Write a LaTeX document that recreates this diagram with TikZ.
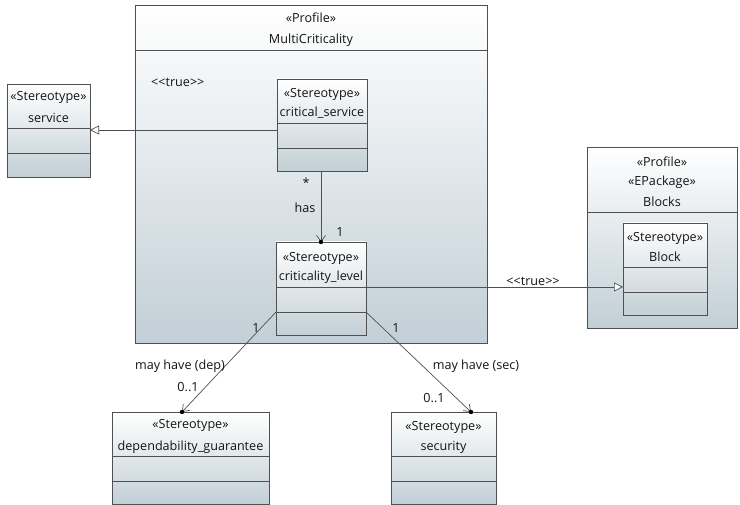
\documentclass[tikz,border=0pt]{standalone}
\usepackage{fontspec}
\setmainfont{Open Sans}
\usetikzlibrary{arrows.meta,calc}
\definecolor{edgec}{RGB}{80,80,80}
\definecolor{shadebot}{RGB}{194,207,214}
\definecolor{txt}{RGB}{20,20,20}
\tikzset{
  x=1pt,y=-1pt,
  box/.style={draw=edgec, line width=0.8pt, top color=white, bottom color=shadebot,
    inner sep=0pt, outer sep=0pt, anchor=north west},
  lbl/.style={text=txt, inner sep=1pt, font=\fontsize{12.6}{14}\selectfont},
  sep/.style={draw=edgec, line width=0.8pt},
  conn/.style={draw=edgec, line width=0.7pt},
  gen/.style={conn, -{Triangle[open, length=9pt, width=9pt, fill=white]}},
  nav/.style={conn, -{Straight Barb[length=6pt, width=9pt]}},
  own/.style={fill=black},
}
\begin{document}
\begin{tikzpicture}
\useasboundingbox (0,0) rectangle (740,505);
\fill[white] (0,0) rectangle (740,505);

% packages
\node[box, minimum width=352pt, minimum height=338pt] (mc) at (135,5) {};
\draw[sep] ($(mc.north west)+(0,45)$) -- ($(mc.north east)+(0,45)$);
\node[lbl] (mcs) at (311,18) {«Profile»};
\node[lbl] (mcn) at (311,40) {MultiCriticality};
\node[lbl, anchor=west] (mct) at (150,82) {<{}<true>{}>};

\node[box, minimum width=150pt, minimum height=181pt] (bp) at (587,147) {};
\draw[sep] ($(bp.north west)+(0,65)$) -- ($(bp.north east)+(0,65)$);
\node[lbl] (bps) at (662,162) {«Profile»};
\node[lbl] (bpe) at (662,182) {«EPackage»};
\node[lbl] (bpn) at (662,202) {Blocks};

% classes
\node[box, minimum width=83pt, minimum height=93pt] (svc) at (7,84) {};
\draw[sep] ($(svc.north west)+(0,44)$) -- ($(svc.north east)+(0,44)$);
\draw[sep] ($(svc.north west)+(0,69)$) -- ($(svc.north east)+(0,69)$);
\node[lbl] (svcs) at (48.5,97) {«Stereotype»};
\node[lbl] (svcn) at (48.5,118) {service};

\node[box, minimum width=90pt, minimum height=92pt] (cs) at (277,79) {};
\draw[sep] ($(cs.north west)+(0,44)$) -- ($(cs.north east)+(0,44)$);
\draw[sep] ($(cs.north west)+(0,69)$) -- ($(cs.north east)+(0,69)$);
\node[lbl] (css) at (322,94) {«Stereotype»};
\node[lbl] (csn) at (322,113) {critical\_service};

\node[box, minimum width=90pt, minimum height=93pt] (cl) at (276,242) {};
\draw[sep] ($(cl.north west)+(0,45)$) -- ($(cl.north east)+(0,45)$);
\draw[sep] ($(cl.north west)+(0,70)$) -- ($(cl.north east)+(0,70)$);
\node[lbl] (cls) at (321,258) {«Stereotype»};
\node[lbl] (cln) at (321,277) {criticality\_level};

\node[box, minimum width=84pt, minimum height=92pt] (blk) at (623,223) {};
\draw[sep] ($(blk.north west)+(0,44)$) -- ($(blk.north east)+(0,44)$);
\draw[sep] ($(blk.north west)+(0,69)$) -- ($(blk.north east)+(0,69)$);
\node[lbl] (blks) at (665,238) {«Stereotype»};
\node[lbl] (blkn) at (665,257) {Block};

\node[box, minimum width=157pt, minimum height=92pt] (dep) at (112,412) {};
\draw[sep] ($(dep.north west)+(0,44)$) -- ($(dep.north east)+(0,44)$);
\draw[sep] ($(dep.north west)+(0,69)$) -- ($(dep.north east)+(0,69)$);
\node[lbl] (deps) at (190.5,425) {«Stereotype»};
\node[lbl] (depn) at (190.5,447) {dependability\_guarantee};

\node[box, minimum width=105pt, minimum height=92pt] (sec) at (391,412) {};
\draw[sep] ($(sec.north west)+(0,44)$) -- ($(sec.north east)+(0,44)$);
\draw[sep] ($(sec.north west)+(0,69)$) -- ($(sec.north east)+(0,69)$);
\node[lbl] (secs) at (443.5,427) {«Stereotype»};
\node[lbl] (secn) at (443.5,447) {security};

% connectors
\draw[gen] ($(cs.north west)+(0,51)$) -- ($(svc.north east)+(0,46)$);
\draw[gen] ($(cl.north east)+(0,45)$) -- node[lbl, above, pos=0.65] (t2) {<{}<true>{}>} ($(blk.north west)+(0,64)$);

\draw[nav] (cs.south -| cl.north) -- (cl.north);
\fill[own] (cl.north) circle (2.2pt);
\node[lbl] (m1) at (306,183) {*};
\node[lbl] (hs) at (305,208) {has};
\node[lbl] (m2) at (340,232) {1};

\coordinate (depend) at ($(dep.north west)+(70,0)$);
\draw[nav] ($(cl.south west)+(0,-23)$) -- (depend);
\fill[own] (depend) circle (2.2pt);
\node[lbl] (d1) at (256,328) {1};
\node[lbl] (d2) at (180,366) {may have (dep)};
\node[lbl] (d3) at (188,387) {0..1};

\coordinate (secend) at ($(sec.north east)+(-25,0)$);
\draw[nav] ($(cl.south east)+(0,-23)$) -- (secend);
\fill[own] (secend) circle (2.2pt);
\node[lbl] (s1) at (396,328) {1};
\node[lbl] (s2) at (476,366) {may have (sec)};
\node[lbl] (s3) at (434,398) {0..1};
\end{tikzpicture}
\end{document}
